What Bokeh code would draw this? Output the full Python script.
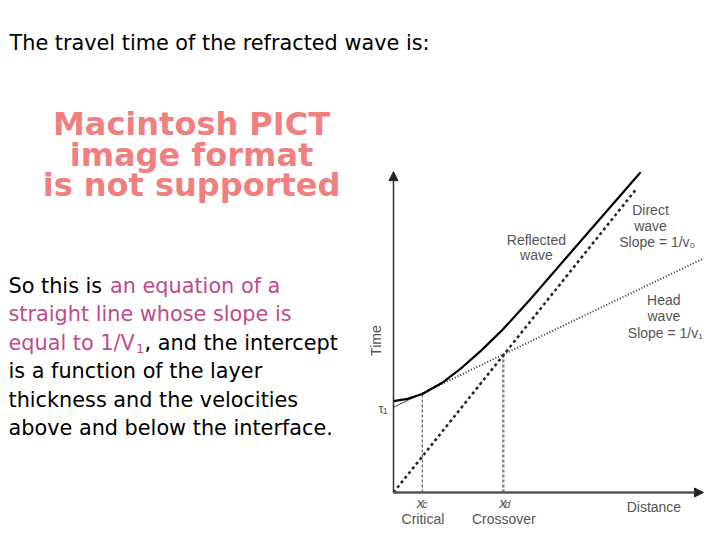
from bokeh.plotting import figure
from bokeh.models import Range1d, Label, Arrow, NormalHead
from bokeh.embed import file_html
from bokeh.resources import INLINE

# ---- data (diagram units) ----
reflected_x = [0.0, 0.45, 0.93, 1.57, 2.22, 2.86, 3.51, 4.42, 5.76, 7.97]
reflected_y = [2.95, 3.02, 3.18, 3.54, 4.04, 4.61, 5.24, 6.24, 7.79, 10.33]
direct_x = [0.0, 7.8]
direct_y = [0.0, 9.75]
head_x = [0.0, 0.93, 10.0]
head_y = [2.75, 3.20, 7.55]
critical_x = 0.93
critical_t = 3.18
crossover_x = 3.54
crossover_t = 4.45
axis_x_end = 10.0
axis_y_end = 10.35

title_text = "The travel time of the refracted wave is:"
pict_lines = ["Macintosh PICT", "image format", "is not supported"]

W, H = 704, 532
S = 31.0           # px per diagram unit
OX, OY = 393, 492  # position of diagram origin in the picture
X0, Y0 = 0, 0      # picture position of the canvas corner (measured)
p = figure(width=W, height=H, output_backend="svg", toolbar_location=None,
           x_range=Range1d((X0 - OX) / S, (X0 + W - OX) / S),
           y_range=Range1d((OY - Y0 - H) / S, (OY - Y0) / S),
           x_axis_type=None, y_axis_type=None, min_border=0,
           min_border_left=0, min_border_right=0, min_border_top=0, min_border_bottom=0)
p.extra_x_ranges = {"px": Range1d(X0, X0 + W)}
p.extra_y_ranges = {"px": Range1d(Y0 + H, Y0)}
p.grid.visible = False
p.outline_line_color = None
p.background_fill_color = "white"
p.border_fill_color = "white"

BODY = "DejaVu Sans"
DIAG = "Liberation Sans"
MAG = "#bf4b8c"
GREY = "#555555"


def ptext(x, y, t, size=20.8, color="black", style="normal", align="left"):
    # y given as text baseline; converted to the em-box middle
    p.add_layout(Label(x=x, y=y - 0.3 * size, x_range_name="px", y_range_name="px", text=t,
                       text_font=BODY, text_font_size=f"{size}px", text_color=color,
                       text_font_style=style, text_align=align, text_baseline="middle"))


# ---- slide text ----
ptext(9, 49, title_text)
for i, line in enumerate(pict_lines):
    ptext(191, 133.3 + 30.5 * i, line, size=32, color="#f08080", style="bold", align="center")

base = [291.5, 320.0, 348.5, 377.0, 405.5, 434.0]
ptext(8, base[0], "So this is ")
ptext(109.5, base[0], "an equation of a", color=MAG)
ptext(8, base[1], "straight line whose slope is", color=MAG)
ptext(8, base[2], "equal to 1/V", color=MAG)
ptext(135.5, base[2] + 3, "1", size=13, color=MAG)
ptext(144, base[2], ", and the intercept")
ptext(8, base[3], "is a function of the layer")
ptext(8, base[4], "thickness and the velocities")
ptext(8, base[5], "above and below the interface.")

# ---- diagram ----
p.line([critical_x, critical_x], [0, critical_t], line_color="#666666", line_width=1.3, line_dash="3 2")
p.line([crossover_x, crossover_x], [0, crossover_t], line_color="#888888", line_width=2.5, line_dash="3 2")

p.line(head_x[:2], head_y[:2], line_color="#444444", line_width=1.0)
p.line(head_x[1:], head_y[1:], line_color="#333333", line_width=2.0, line_dash="1 2")
p.line(direct_x, direct_y, line_color="#222222", line_width=2.5, line_dash="3 3")
p.line(reflected_x, reflected_y, line_color="black", line_width=2.2)

p.add_layout(Arrow(end=NormalHead(size=9, fill_color="#222222", line_color="#222222"),
                   x_start=0, y_start=0, x_end=0, y_end=axis_y_end,
                   line_color="#333333", line_width=1.5))
p.add_layout(Arrow(end=NormalHead(size=9, fill_color="#222222", line_color="#222222"),
                   x_start=0, y_start=0, x_end=axis_x_end, y_end=0,
                   line_color="#555555", line_width=2.5))


def lab(x, y, t, size="14px", style="normal", angle=0.0, align="center"):
    p.add_layout(Label(x=x, y=y, text=t, text_font=DIAG, text_font_size=size,
                       text_font_style=style, text_color=GREY, text_align=align,
                       text_baseline="middle", angle=angle))


lab(4.61, 8.16, "Reflected")
lab(4.61, 7.65, "wave")
lab(8.29, 9.12, "Direct")
lab(8.29, 8.59, "wave")
lab(8.51, 8.07, "Slope = 1/v\u2080")
lab(8.72, 6.22, "Head")
lab(8.72, 5.68, "wave")
lab(8.77, 5.14, "Slope = 1/v\u2081")
lab(-0.58, 4.90, "Time", angle=1.5708)
lab(-0.40, 2.72, "\u03c4", size="13px")
lab(-0.27, 2.62, "1", size="9px")
lab(0.87, -0.31, "x", size="15px", style="italic")
lab(1.02, -0.38, "c", size="10px", style="italic")
lab(0.95, -0.85, "Critical")
lab(3.53, -0.31, "x", size="15px", style="italic")
lab(3.68, -0.38, "d", size="10px", style="italic")
lab(3.56, -0.85, "Crossover")
lab(8.40, -0.47, "Distance")

open("out.html", "w").write(file_html(p, INLINE))
